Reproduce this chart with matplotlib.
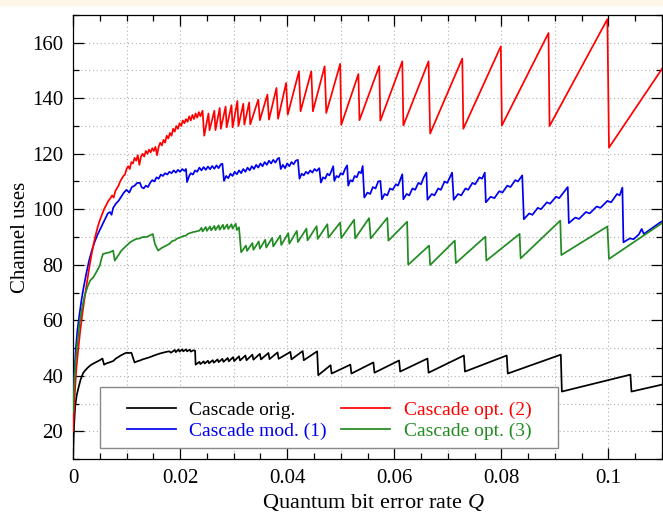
import matplotlib
matplotlib.use("Agg")
import matplotlib.pyplot as plt
from matplotlib.ticker import MultipleLocator, FuncFormatter
from matplotlib.patches import Rectangle

# ---------------- data (x = QBER, y = channel uses) ----------------
black_pts = [
    (0.0, 10.0), (0.0002, 22.0), (0.0004, 29.0), (0.0007, 33.0), (0.001, 35.5), (0.0014, 38.5),
    (0.0019, 41.0), (0.0023, 42.0), (0.0028, 43.0), (0.0033, 43.8), (0.0038, 44.4), (0.0044, 45.0),
    (0.005, 45.6), (0.0055, 46.2), (0.0058, 44.0), (0.0063, 44.5), (0.0068, 44.8), (0.0075, 45.3),
    (0.008, 46.2), (0.0085, 46.8), (0.009, 47.4), (0.0095, 47.9), (0.010, 48.3), (0.0105, 48.2),
    (0.0109, 48.3), (0.0115, 44.8), (0.012, 45.2), (0.0125, 45.5), (0.013, 45.9), (0.0137, 46.3),
    (0.0145, 46.8), (0.015, 47.2), (0.0156, 47.6), (0.0162, 48.0), (0.0168, 48.3), (0.0174, 48.6),
    (0.018, 48.8), (0.0183, 48.3), (0.019, 49.3), (0.0192, 48.5), (0.0197, 49.5), (0.0199, 48.7),
    (0.0204, 49.5), (0.0206, 48.8), (0.0211, 49.5), (0.0213, 48.8), (0.0218, 49.4), (0.022, 48.7),
    (0.0225, 49.2), (0.0228, 49.0), (0.0229, 44.0), (0.0236, 45.0), (0.0238, 44.2), (0.0244, 45.2),
    (0.0246, 44.4), (0.0252, 45.4), (0.0254, 44.5), (0.0261, 45.6), (0.0263, 44.7), (0.0270, 45.9),
    (0.0272, 44.9), (0.0279, 46.1), (0.0281, 45.0), (0.0289, 46.4), (0.0291, 45.2), (0.0299, 46.7),
    (0.0301, 45.3), (0.0310, 47.0), (0.0312, 45.5), (0.0322, 47.3), (0.0324, 45.6), (0.0335, 47.6),
    (0.0337, 45.8), (0.0349, 47.9), (0.0351, 45.9), (0.0365, 48.2), (0.0367, 46.0), (0.0382, 48.4),
    (0.0384, 46.1), (0.0406, 48.6), (0.0408, 45.9), (0.0429, 48.9), (0.0431, 45.6), (0.0456, 48.8),
    (0.0458, 40.2), (0.0481, 43.8), (0.0483, 40.8), (0.0518, 44.0), (0.0520, 40.8), (0.0561, 44.8),
    (0.0563, 41.1), (0.0609, 45.5), (0.0611, 41.5), (0.0662, 46.2), (0.0664, 41.1), (0.0730, 47.3),
    (0.0732, 41.5), (0.0810, 47.3), (0.0812, 40.8), (0.0911, 47.6), (0.0913, 34.3), (0.1041, 40.4),
    (0.1043, 34.3), (0.1100, 36.8),
]

blue_pts = [
    (0.0, 22.0), (0.0002, 38.0), (0.0005, 49.0), (0.0008, 56.0), (0.0012, 62.0), (0.0016, 67.5),
    (0.002, 72.0), (0.0025, 77.0), (0.003, 81.5), (0.0035, 85.0), (0.004, 88.0), (0.0045, 90.5),
    (0.005, 92.5), (0.0055, 94.5), (0.006, 96.5), (0.0065, 98.5), (0.0069, 99.0), (0.0072, 98.0),
    (0.0075, 100.5), (0.008, 102.0), (0.0085, 103.0), (0.009, 104.5), (0.0095, 106.0), (0.010, 107.0),
    (0.0105, 106.0), (0.011, 108.0), (0.0115, 108.5), (0.012, 109.5), (0.0125, 109.5), (0.0128, 108.0),
    (0.0132, 107.5), (0.0136, 108.5), (0.014, 108.0), (0.0144, 109.5), (0.0148, 110.5), (0.0152, 110.0),
    (0.0156, 111.5), (0.016, 111.0), (0.0164, 112.5), (0.0168, 112.0), (0.0172, 113.0), (0.0176, 112.5),
    (0.018, 113.5), (0.0184, 113.0), (0.0188, 114.0), (0.0192, 113.2), (0.0196, 114.2), (0.02, 113.5),
    (0.0204, 114.5), (0.0208, 113.8), (0.0211, 114.5), (0.0213, 109.8), (0.0217, 112.0), (0.022, 113.0),
    (0.0224, 112.5), (0.0228, 114.0), (0.0232, 113.5), (0.0236, 115.0), (0.024, 114.0), (0.0244, 115.2),
    (0.0248, 114.2), (0.0252, 115.4), (0.0256, 114.4), (0.026, 115.6), (0.0264, 114.6), (0.0268, 115.8),
    (0.0272, 114.8), (0.0276, 116.2), (0.0279, 116.4), (0.0282, 110.2), (0.0286, 112.0), (0.029, 111.2),
    (0.0294, 112.8), (0.0298, 112.0), (0.0302, 113.5), (0.0306, 112.6), (0.031, 114.0), (0.0314, 113.0),
    (0.0318, 114.5), (0.0322, 113.5), (0.0326, 115.0), (0.033, 114.0), (0.0334, 115.5), (0.0338, 114.5),
    (0.0342, 116.0), (0.0346, 115.0), (0.035, 116.5), (0.0354, 115.5), (0.0358, 117.0), (0.0362, 116.0),
    (0.0366, 117.5), (0.037, 116.5), (0.0374, 117.8), (0.0378, 116.8), (0.0382, 118.2), (0.0385, 118.5),
    (0.0388, 114.5), (0.0392, 116.0), (0.0396, 114.8), (0.04, 116.5), (0.0404, 115.5), (0.0408, 117.0),
    (0.0412, 116.2), (0.0416, 117.5), (0.042, 117.8), (0.0423, 111.0), (0.0427, 112.8), (0.0431, 112.2),
    (0.0435, 113.5), (0.0439, 112.8), (0.0443, 114.0), (0.0447, 113.2), (0.0451, 114.5), (0.0455, 113.8),
    (0.046, 114.8), (0.0463, 109.6), (0.0467, 111.5), (0.0471, 111.0), (0.0475, 112.8), (0.0479, 112.2),
    (0.0483, 114.0), (0.0486, 115.5), (0.0488, 110.2), (0.0492, 112.0), (0.0496, 111.5), (0.05, 113.0),
    (0.0504, 112.5), (0.0508, 114.5), (0.0512, 115.8), (0.0514, 108.5), (0.0518, 110.5), (0.0522, 110.0),
    (0.0526, 112.0), (0.053, 111.5), (0.0534, 113.5), (0.0538, 113.0), (0.0541, 115.6), (0.0544, 104.2),
    (0.055, 106.0), (0.0555, 105.5), (0.056, 108.0), (0.0565, 107.5), (0.057, 110.0), (0.0574, 110.2),
    (0.0577, 103.6), (0.0582, 105.5), (0.0587, 105.0), (0.0592, 107.5), (0.0597, 107.0), (0.0603, 109.0),
    (0.0607, 108.5), (0.0612, 111.0), (0.0615, 112.6), (0.0617, 103.6), (0.0623, 105.5), (0.0628, 105.0),
    (0.0634, 107.5), (0.0639, 107.0), (0.0645, 109.5), (0.065, 109.0), (0.0655, 111.5), (0.066, 113.2),
    (0.0662, 103.4), (0.067, 105.5), (0.0675, 105.0), (0.0682, 107.5), (0.0687, 107.0), (0.0694, 110.0),
    (0.0699, 109.5), (0.0705, 112.0), (0.0708, 113.2), (0.0711, 103.4), (0.0719, 105.5), (0.0725, 105.0),
    (0.0733, 107.5), (0.0738, 107.0), (0.0746, 109.5), (0.0751, 109.0), (0.0759, 111.5), (0.0764, 111.0),
    (0.0769, 113.2), (0.0771, 102.5), (0.078, 104.5), (0.0787, 104.0), (0.0796, 106.5), (0.0802, 106.0),
    (0.0811, 108.5), (0.0817, 108.0), (0.0826, 110.5), (0.0831, 110.0), (0.0839, 112.2), (0.0842, 96.4),
    (0.0852, 98.5), (0.0858, 98.0), (0.0868, 100.5), (0.0874, 100.0), (0.0885, 102.5), (0.0891, 102.0),
    (0.0902, 104.5), (0.0908, 104.0), (0.0918, 106.5), (0.0924, 108.0), (0.0926, 95.0), (0.0938, 97.0),
    (0.0945, 96.5), (0.0958, 99.0), (0.0965, 98.5), (0.0978, 101.0), (0.0985, 100.5), (0.0998, 103.0),
    (0.1005, 102.5), (0.1016, 105.5), (0.1021, 105.0), (0.1026, 107.8), (0.1028, 88.1), (0.104, 89.5),
    (0.1047, 89.2), (0.1057, 91.0), (0.1062, 92.9), (0.1066, 91.1), (0.108, 93.0), (0.1097, 95.3),
    (0.1100, 95.6),
]

red_pts = [
    (0.0, 20.0), (0.0003, 32.0), (0.0006, 42.0), (0.001, 50.0), (0.0014, 57.0), (0.0018, 63.0),
    (0.0022, 68.5), (0.0026, 73.5), (0.003, 78.5), (0.0034, 83.0), (0.0038, 87.0), (0.0042, 90.5),
    (0.0046, 93.5), (0.005, 96.0), (0.0054, 98.0), (0.0058, 100.0), (0.0062, 101.5), (0.0066, 103.0),
    (0.007, 104.0), (0.0073, 105.0), (0.0076, 104.2), (0.0079, 106.5), (0.0082, 107.5), (0.0085, 108.5),
    (0.0088, 110.0), (0.0091, 111.0), (0.0094, 112.0), (0.0097, 112.5), (0.0100, 114.5), (0.0103, 115.5),
    (0.0106, 114.5), (0.0109, 117.0), (0.0112, 116.5), (0.0115, 118.5), (0.0118, 117.5), (0.0121, 119.5),
    (0.0124, 116.0), (0.0127, 119.0), (0.0130, 120.0), (0.0133, 119.0), (0.0136, 121.0), (0.0139, 120.0),
    (0.0142, 121.5), (0.0145, 120.5), (0.0148, 122.0), (0.0151, 121.0), (0.0154, 122.5), (0.0157, 119.5),
    (0.0160, 122.5), (0.0163, 124.0), (0.0166, 123.0), (0.0169, 125.0), (0.0172, 124.0), (0.0175, 126.5),
    (0.0178, 125.5), (0.0181, 127.5), (0.0184, 126.5), (0.0187, 129.0), (0.0190, 128.0), (0.0193, 130.0),
    (0.0196, 129.0), (0.0199, 131.0), (0.0202, 130.0), (0.0205, 132.0), (0.0208, 131.0), (0.0211, 132.5),
    (0.0214, 131.5), (0.0217, 133.5), (0.0220, 132.0), (0.0223, 134.0), (0.0226, 132.5), (0.0229, 134.5),
    (0.0232, 133.0), (0.0235, 135.0), (0.0238, 133.5), (0.0242, 135.5), (0.0245, 126.5), (0.0253, 134.5),
    (0.0255, 128.5), (0.0264, 135.5), (0.0266, 128.5), (0.0274, 136.5), (0.0276, 129.0), (0.0285, 137.0),
    (0.0287, 129.5), (0.0296, 137.5), (0.0298, 129.5), (0.0307, 139.0), (0.0309, 130.0), (0.0318, 138.0),
    (0.0320, 130.5), (0.0329, 138.5), (0.0331, 130.6), (0.0346, 139.5), (0.0349, 132.1), (0.0363, 141.3),
    (0.0366, 132.3), (0.0380, 143.7), (0.0383, 132.6), (0.0398, 145.5), (0.0401, 134.1), (0.0422, 149.7),
    (0.0425, 135.3), (0.0445, 149.7), (0.0448, 135.3), (0.0470, 151.5), (0.0473, 134.7), (0.0499, 152.4),
    (0.0501, 130.4), (0.0533, 148.7), (0.0535, 132.1), (0.0572, 151.6), (0.0574, 131.9), (0.0615, 153.3),
    (0.0617, 130.2), (0.0664, 153.3), (0.0667, 127.3), (0.0727, 154.3), (0.0729, 129.0), (0.0799, 158.7),
    (0.0801, 130.2), (0.0888, 163.5), (0.0890, 130.0), (0.0998, 168.5), (0.1001, 122.2), (0.1100, 150.6),
]

green_pts = [
    (0.0, 27.0), (0.0003, 40.0), (0.0007, 50.0), (0.0013, 60.0), (0.0018, 65.5), (0.0022, 69.0),
    (0.0027, 72.0), (0.0032, 74.3), (0.0038, 75.5), (0.0044, 77.5), (0.005, 79.7), (0.0053, 82.0),
    (0.0056, 83.9), (0.0062, 84.2), (0.0069, 84.5), (0.0075, 85.1), (0.0078, 81.5), (0.0085, 83.5),
    (0.009, 85.0), (0.0095, 86.0), (0.010, 86.9), (0.0105, 87.8), (0.011, 88.5), (0.0118, 89.3),
    (0.0125, 89.5), (0.013, 90.0), (0.0137, 90.0), (0.0143, 90.5), (0.0149, 91.1), (0.0153, 87.5),
    (0.0159, 85.1), (0.0165, 86.0), (0.017, 86.5), (0.0175, 87.0), (0.018, 87.5), (0.0185, 88.5),
    (0.019, 88.8), (0.0195, 89.5), (0.020, 89.8), (0.0205, 90.3), (0.0211, 90.5), (0.0215, 91.2),
    (0.022, 91.5), (0.0225, 91.8), (0.023, 92.0), (0.0236, 92.3), (0.024, 93.3), (0.0242, 92.0),
    (0.0248, 93.6), (0.025, 92.2), (0.0256, 93.8), (0.0258, 92.4), (0.0264, 94.0), (0.0266, 92.5),
    (0.0272, 94.2), (0.0274, 92.6), (0.028, 94.4), (0.0282, 92.8), (0.0288, 94.5), (0.029, 92.9),
    (0.0296, 94.6), (0.0298, 93.0), (0.0304, 94.8), (0.0306, 92.5), (0.031, 93.5), (0.0314, 84.5),
    (0.0323, 86.9), (0.0325, 85.0), (0.0335, 87.8), (0.0337, 85.4), (0.0347, 88.4), (0.0349, 85.8),
    (0.0359, 89.0), (0.0361, 86.2), (0.0372, 89.7), (0.0374, 86.6), (0.0387, 90.5), (0.0389, 87.1),
    (0.0402, 91.4), (0.0404, 87.6), (0.0418, 92.2), (0.0420, 88.2), (0.0436, 93.0), (0.0438, 88.8),
    (0.0455, 93.9), (0.0457, 89.3), (0.0475, 94.6), (0.0477, 89.8), (0.0499, 95.2), (0.0501, 89.6),
    (0.0525, 96.2), (0.0527, 89.5), (0.0553, 96.8), (0.0556, 89.5), (0.0587, 96.9), (0.0589, 88.7),
    (0.0624, 95.5), (0.0626, 80.0), (0.0665, 86.9), (0.0667, 79.9), (0.0713, 88.7), (0.0715, 80.6),
    (0.0770, 90.1), (0.0772, 81.5), (0.0834, 91.1), (0.0836, 82.3), (0.0910, 95.9), (0.0912, 83.5),
    (0.0998, 93.8), (0.1001, 82.1), (0.1100, 95.0),
]

series_labels = ["Cascade orig.", "Cascade mod. (1)", "Cascade opt. (2)", "Cascade opt. (3)"]
series_colors = ["black", "#0000ee", "#ff0000", "#228b22"]

x_ticks = [0, 0.02, 0.04, 0.06, 0.08, 0.1]
y_ticks = [20, 40, 60, 80, 100, 120, 140, 160]

# ---------------- plotting ----------------
plt.rcParams["font.family"] = ["Liberation Serif", "DejaVu Serif"]
plt.rcParams["mathtext.fontset"] = "custom"
plt.rcParams["mathtext.it"] = "Liberation Serif:italic"
plt.rcParams["mathtext.rm"] = "Liberation Serif"

fig = plt.figure(figsize=(6.63, 5.15), dpi=100)
fig.patches.append(Rectangle((0, 1 - 5 / 515), 1, 5 / 515, transform=fig.transFigure,
                             color="#fcf6e6", zorder=0))
ax = fig.add_axes([73 / 663, 1 - 459 / 515, 589 / 663, 444 / 515])

ax.set_xlim(0, 0.11)
ax.set_ylim(10, 170)

# dotted grid every 0.01 / 10
for gx in [0.01 * i for i in range(1, 11)]:
    ax.axvline(gx, color="#b0b0b0", lw=0.8, ls=(0, (1, 2.5)), zorder=0)
for gy in range(20, 170, 10):
    ax.axhline(gy, color="#b0b0b0", lw=0.8, ls=(0, (1, 2.5)), zorder=0)

handles = []
for pts, lab, col in zip([black_pts, blue_pts, red_pts, green_pts], series_labels, series_colors):
    xs = [p[0] for p in pts]
    ys = [p[1] for p in pts]
    h, = ax.plot(xs, ys, color=col, lw=1.25, label=lab, zorder=3)
    handles.append(h)

ax.set_xticks(x_ticks)
ax.set_yticks(y_ticks)
ax.xaxis.set_major_formatter(FuncFormatter(lambda v, p: f"{v:g}"))
ax.xaxis.set_minor_locator(MultipleLocator(0.005))
ax.yaxis.set_minor_locator(MultipleLocator(10))
ax.tick_params(which="both", direction="in", top=True, right=True, labelsize=15, width=0.9)
ax.tick_params(which="major", length=8, pad=7)
ax.tick_params(which="minor", length=4)
for s in ax.spines.values():
    s.set_linewidth(0.9)

ax.set_xlabel(r"Quantum bit error rate $\mathit{Q}$", fontsize=16, labelpad=3)
ax.xaxis.set_label_coords(0.51, -0.075)
ax.set_ylabel("Channel uses", fontsize=15, labelpad=1.5)

# legend frame drawn as a plain rectangle (axes fraction)
frame = Rectangle((0.0458, 0.0248), 0.7776, 0.1374, transform=ax.transAxes,
                  facecolor="white", edgecolor="#888888", lw=1.0, zorder=4)
ax.add_patch(frame)
leg = ax.legend(handles=handles, ncol=2, loc="center left",
                bbox_to_anchor=(0.0917, 0.0867), borderaxespad=0, borderpad=0,
                fontsize=14, frameon=False, handlelength=2.5, handletextpad=0.7,
                columnspacing=0.75, labelspacing=0.15)
for txt, col in zip(leg.get_texts(), series_colors):
    txt.set_color(col)
leg.set_zorder(5)

fig.savefig("out.png", dpi=100)
